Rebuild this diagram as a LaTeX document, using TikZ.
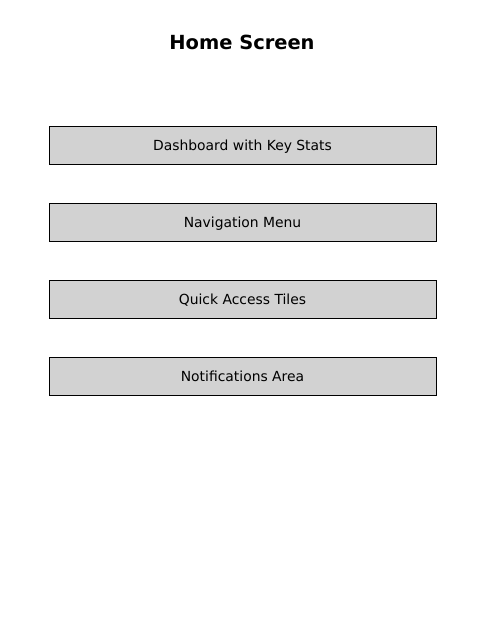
\documentclass[tikz,border=0pt]{standalone}
\usepackage{fontspec}
\setmainfont{DejaVu Sans}
\usetikzlibrary{positioning}

\begin{document}
\begin{tikzpicture}[x=0.72pt,y=-0.72pt,node distance=28.08pt,semithick,
	section/.style={draw=black,fill=lightgray!70!white,line width=0.7pt,outer sep=0pt,minimum width=278.64pt,minimum height=27.36pt,inner sep=0pt,text height=7.3pt,text depth=0pt,font=\fontsize{10}{12}\selectfont},
	heading/.style={font=\fontsize{14}{16}\selectfont\bfseries}]
				\useasboundingbox (0,0) rectangle (484,636);
				\node[heading]	(title)	at (242,42) {Home Screen};
				\node[section]	(dash)	at (242.5,145) {Dashboard with Key Stats};
				\node[below=of dash, section]	(nav) {Navigation Menu};
				\node[below=of nav, section]	(tiles) {Quick Access Tiles};
				\node[below=of tiles, section]	(notif) {Notifications Area};
\end{tikzpicture}
\end{document}
